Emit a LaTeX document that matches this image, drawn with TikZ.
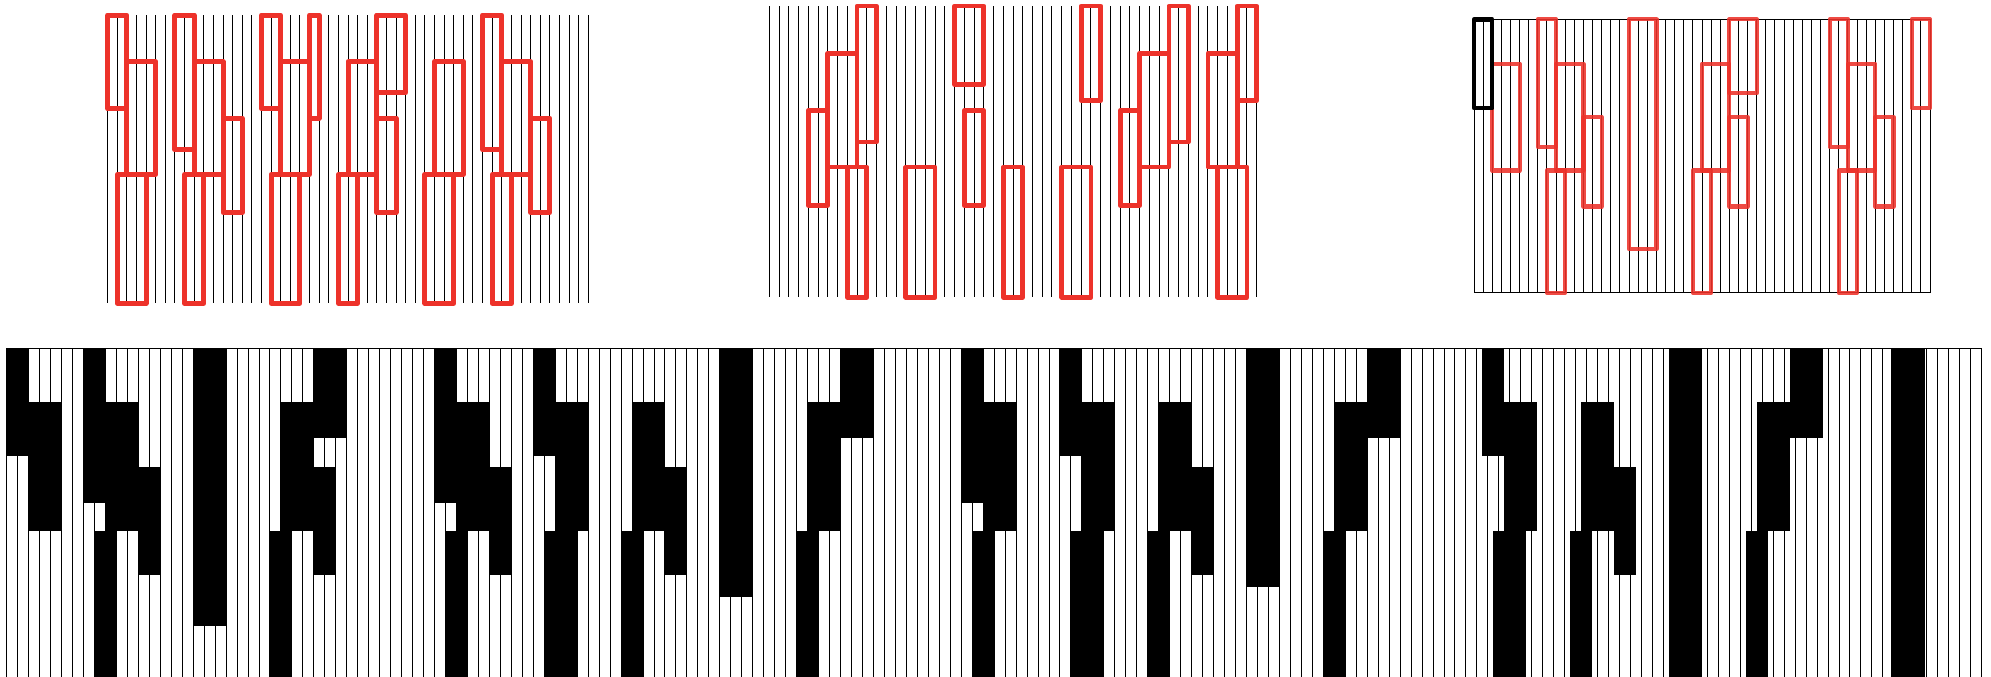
\documentclass[tikz,border=0pt]{standalone}
\definecolor{rbox}{RGB}{237,50,42}
\tikzset{
  gridline/.style={black, line width=0.5pt},
  redbox/.style={draw=rbox, line width=2.5pt, line join=round},
  redboxmid/.style={draw=rbox, line width=2.35pt, line join=round},
  redboxthin/.style={draw=rbox, draw opacity=0.88, line width=2.1pt, line join=round},
  markbox/.style={draw=black, line width=2.2pt, line join=round},
  blockfill/.style={fill=black},
}
\begin{document}
\begin{tikzpicture}[x=0.5pt,y=-0.5pt]
\clip (0,0) rectangle (1991,676);
% ---------------- top left panel ----------------
\begin{scope}[xshift=53.83pt,yshift=-7.5pt,x=4.807pt,y=-144.17pt]
  \foreach \c in {0,...,50} \draw[gridline] (\c,0) -- (\c,1);
  \foreach \a/\b/\t/\u in {0/2/0/.325, 2/5/.162/.553, 1/4/.553/1,
      7/9/0/.467, 9/12/.162/.553, 12/14/.358/.685, 8/10/.553/1,
      16/18/0/.325, 18/21/.162/.553, 21/22/0/.358, 17/20/.553/1,
      28/31/0/.270, 25/28/.162/.553, 28/30/.358/.685, 24/26/.553/1,
      34/37/.162/.553, 33/36/.553/1,
      39/41/0/.467, 41/44/.162/.553, 44/46/.358/.685, 40/42/.553/1}
    \draw[redbox] (\a,\t) rectangle (\b,\u);
\end{scope}
% ---------------- top middle panel ----------------
\begin{scope}[xshift=384.67pt,yshift=-3pt,x=4.873pt,y=-145.67pt]
  \foreach \c in {0,...,50} \draw[gridline] (\c,0) -- (\c,1);
  \foreach \a/\b/\t/\u in {9/11/0/.467, 6/9/.162/.553, 4/6/.358/.685, 8/10/.553/1,
      19/22/0/.270, 20/22/.358/.685, 14/17/.553/1, 24/26/.553/1,
      30/33/.553/1, 32/34/0/.325,
      41/43/0/.467, 38/41/.162/.553, 36/38/.358/.685,
      48/50/0/.325, 45/48/.162/.553, 46/49/.553/1}
    \draw[redboxmid] (\a,\t) rectangle (\b,\u);
\end{scope}
% ---------------- top right panel ----------------
\begin{scope}[xshift=737pt,yshift=-9.67pt,x=4.56pt,y=-136.67pt]
  \foreach \c in {0,...,50} \draw[gridline] (\c,0) -- (\c,1);
  \draw[gridline] (0,0) -- (50,0);
  \draw[gridline] (0,1) -- (50,1);
  \foreach \a/\b/\t/\u in {2/5/.162/.553,
      7/9/0/.467, 9/12/.162/.553, 12/14/.358/.685, 8/10/.553/1,
      17/20/0/.841,
      25/28/.162/.553, 28/31/0/.270, 28/30/.358/.685, 24/26/.553/1,
      39/41/0/.467, 41/44/.162/.553, 44/46/.358/.685, 40/42/.553/1,
      48/50/0/.325}
    \draw[redboxthin] (\a,\t) rectangle (\b,\u);
  \draw[markbox] (0,0) rectangle (2,.325);
\end{scope}
% ---------------- bottom strip ----------------
\begin{scope}[xshift=3.33pt,yshift=-174.17pt,x=5.486pt,y=-165.5pt]
  \foreach \c in {0,...,180} \draw[gridline] (\c,0) -- (\c,1);
  \draw[gridline] (0,0) -- (180,0);
  \foreach \a/\b/\t/\u in {0/2/0/.325, 2/5/.162/.553,
      7/9/0/.467, 9/12/.162/.553, 12/14/.358/.685, 8/10/.553/1,
      17/20/0/.838,
      25/28/.162/.553, 28/31/0/.270, 28/30/.358/.685, 24/26/.553/1,
      39/41/0/.467, 41/44/.162/.553, 44/46/.358/.685, 40/42/.553/1,
      48/50/0/.325, 50/53/.162/.553, 49/52/.553/1,
      57/60/.162/.553, 60/62/.358/.685, 56/58/.553/1,
      65/68/0/.75,
      73/76/.162/.553, 76/79/0/.270, 72/74/.553/1,
      87/89/0/.467, 89/92/.162/.553, 88/90/.553/1,
      96/98/0/.325, 98/101/.162/.553, 97/100/.553/1,
      105/108/.162/.553, 108/110/.358/.685, 104/106/.553/1,
      113/116/0/.72,
      121/124/.162/.553, 124/127/0/.270, 120/122/.553/1,
      134.5/136.5/0/.325, 136.5/139.5/.162/.553, 135.5/138.5/.553/1,
      143.5/146.5/.162/.553, 146.5/148.5/.358/.685, 142.5/144.5/.553/1,
      151.5/154.5/0/1,
      159.5/162.5/.162/.553, 162.5/165.5/0/.270, 158.5/160.5/.553/1,
      171.7/174.8/0/1}
    \fill[blockfill] (\a,\t) rectangle (\b,\u);
\end{scope}
\end{tikzpicture}
\end{document}
